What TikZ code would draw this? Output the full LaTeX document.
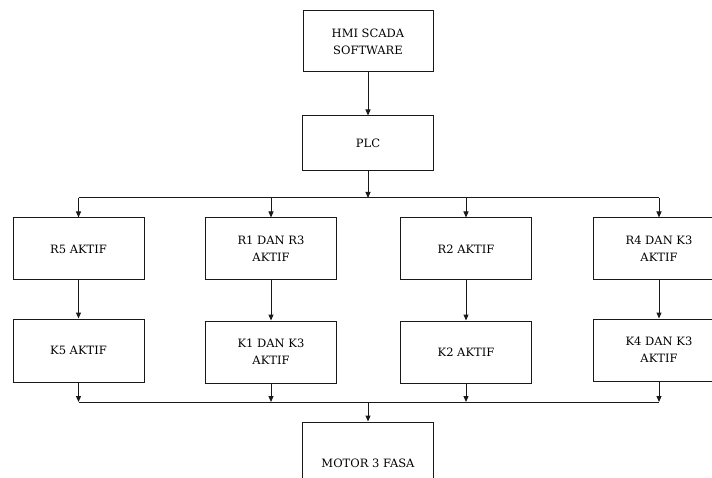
\documentclass[tikz,border=0pt]{standalone}
\usepackage{fontspec}
\setmainfont{DejaVu Serif}
\usetikzlibrary{arrows.meta}
\begin{document}
\begin{tikzpicture}[x=1pt,y=-1pt,
  box/.style={draw=black!90, line width=1pt, minimum width=131pt, align=center,
    font=\fontsize{11.5}{17}\selectfont, text=black, inner sep=0pt},
  conn/.style={draw=black!90, line width=1pt},
  arr/.style={conn, -{Triangle[length=6pt,width=5pt]}}]
\useasboundingbox (0,0) rectangle (712,478);
\clip (0,0) rectangle (712,478);
\node[box, minimum width=130pt, minimum height=61pt] (hmi) at (368,41.5) {HMI SCADA\\SOFTWARE};
\node[box, minimum height=55pt] (plc) at (368,143.5) {PLC};
\node[box, minimum height=62pt] (r5) at (78.5,249) {R5 AKTIF};
\node[box, minimum height=62pt] (r1) at (271,249) {R1 DAN R3\\AKTIF};
\node[box, minimum height=62pt] (r2) at (466,249) {R2 AKTIF};
\node[box, minimum height=62pt] (r4) at (659,249) {R4 DAN K3\\AKTIF};
\node[box, minimum height=63pt] (k5) at (78.5,350.5) {K5 AKTIF};
\node[box, minimum height=62pt] (k1) at (271,352) {K1 DAN K3\\AKTIF};
\node[box, minimum height=62pt] (k2) at (466,352) {K2 AKTIF};
\node[box, minimum height=62pt] (k4) at (659,350) {K4 DAN K3\\AKTIF};
\node[box, minimum height=82pt] (motor) at (368,463) {MOTOR 3 FASA};
\coordinate (bt) at (368,198);
\coordinate (bb) at (368,402);
\coordinate (t5) at (r5.north |- bt);
\coordinate (t4) at (r4.north |- bt);
\coordinate (b5) at (k5.south |- bb);
\coordinate (b4) at (k4.south |- bb);
\draw[arr] (hmi) -- (plc);
\draw[arr] (plc) -- (bt);
\draw[conn] (t5) -- (t4);
\foreach \n in {r5,r1,r2,r4} \draw[arr] (\n.north |- bt) -- (\n.north);
\foreach \n/\k in {r5/k5,r1/k1,r2/k2,r4/k4} \draw[arr] (\n.south) -- (\k.north);
\foreach \k in {k5,k1,k2,k4} \draw[arr] (\k.south) -- (\k.south |- bb);
\draw[conn] (b5) -- (b4);
\draw[arr] (bb) -- (motor);
\end{tikzpicture}
\end{document}
